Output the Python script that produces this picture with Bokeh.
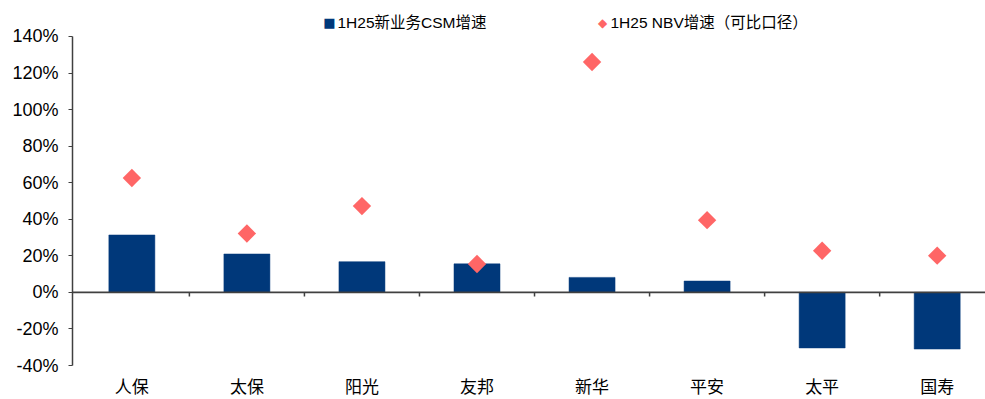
import numpy as np
from bokeh.plotting import figure
from bokeh.models import (Range1d, FixedTicker, PrintfTickFormatter, Span,
                          Label, ColumnDataSource)
from bokeh.embed import file_html
from bokeh.resources import INLINE

# Growth rates (%) by insurer
companies = ["人保", "太保", "阳光", "友邦", "新华", "平安", "太平", "国寿"]
csm_growth = [31.4, 21.0, 16.8, 15.6, 8.2, 6.2, -30.4, -31.0]
nbv_growth = [62.6, 32.2, 47.2, 15.5, 126.0, 39.5, 22.8, 20.1]
y_ticks = [-40, -20, 0, 20, 40, 60, 80, 100, 120, 140]
series_names = ["1H25新业务CSM增速", "1H25 NBV增速（可比口径）"]

BAR_COLOR = "#00387A"
DOT_COLOR = "#FF6666"
AXIS_COLOR = "#404040"
LATIN_FONT = "Liberation Sans"
MIXED_FONT = "'Liberation Sans', 'Noto Sans CJK SC'"

x_pos = np.arange(len(companies)) + 0.5
src = ColumnDataSource(dict(x=x_pos, csm=csm_growth, nbv=nbv_growth, name=companies))
boundaries = np.arange(1, len(companies))

# the plot area reaches above 140% to leave room for the legend row;
# the y axis itself stops at 140%
p = figure(width=985, height=399, output_backend="svg", toolbar_location=None,
           x_range=Range1d(-0.016, 7.92), y_range=Range1d(-40, 154.2),
           min_border_left=72, min_border_right=0, min_border_top=10,
           min_border_bottom=33)
p.outline_line_color = None
p.grid.visible = False
p.background_fill_color = "white"
p.border_fill_color = "white"

# zero line with short separators between categories
p.add_layout(Span(location=0, dimension="width", line_color=AXIS_COLOR, line_width=1.8))
p.segment(x0=boundaries, x1=boundaries, y0=np.zeros(len(boundaries)),
          y1=np.full(len(boundaries), -2.2), line_color=AXIS_COLOR, line_width=1.5)

# bars and diamond markers
p.vbar(x="x", top="csm", width=0.4, bottom=0, source=src,
       fill_color=BAR_COLOR, line_color=BAR_COLOR, line_width=0.5)
p.scatter(x="x", y="nbv", source=src, marker="square", angle=np.pi / 4,
          size=13, fill_color=DOT_COLOR, line_color=None)

# y axis
ya = p.yaxis[0]
ya.ticker = FixedTicker(ticks=y_ticks)
ya.bounds = (y_ticks[0], y_ticks[-1])
ya.formatter = PrintfTickFormatter(format="%d%%")
ya.axis_line_color = AXIS_COLOR
ya.axis_line_width = 1.5
ya.major_tick_line_color = AXIS_COLOR
ya.major_tick_out = 4
ya.major_tick_in = 0
ya.minor_tick_line_color = None
ya.major_label_standoff = 10
ya.major_label_text_font = LATIN_FONT
ya.major_label_text_font_size = "18px"
ya.major_label_text_color = "#000000"

# category labels at the bottom
xa = p.xaxis[0]
xa.ticker = FixedTicker(ticks=list(x_pos))
xa.major_label_overrides = {float(v): n for v, n in zip(x_pos, companies)}
xa.axis_line_color = None
xa.major_tick_line_color = None
xa.minor_tick_line_color = None
xa.major_tick_out = 0
xa.major_label_standoff = 12
xa.major_label_text_font = MIXED_FONT
xa.major_label_text_font_size = "17px"
xa.major_label_text_color = "#000000"

# legend row (screen offsets from the plot area's bottom-left corner)
legend_y = 343
for sym, sym_x, sym_size, txt, txt_x, col in [
        ("■", 257, "13px", series_names[0], 265, BAR_COLOR),
        ("◆", 530, "12px", series_names[1], 538, DOT_COLOR)]:
    p.add_layout(Label(x=sym_x, y=legend_y, x_units="screen", y_units="screen",
                       text=sym, text_color=col, text_font="DejaVu Sans",
                       text_font_size=sym_size, text_align="center",
                       text_baseline="middle"))
    p.add_layout(Label(x=txt_x, y=legend_y, x_units="screen", y_units="screen",
                       text=txt, text_color="#000000", text_font=MIXED_FONT,
                       text_font_size="15.5px", text_baseline="middle"))

open("out.html", "w").write(file_html(p, INLINE))
